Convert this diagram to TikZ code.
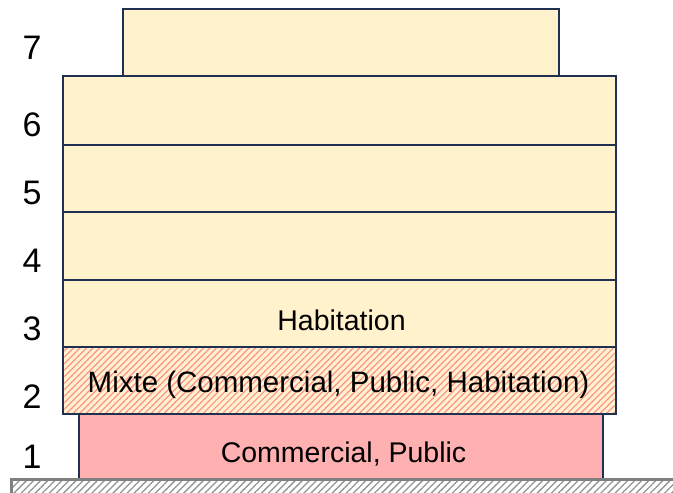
\documentclass[tikz,border=0pt]{standalone}
\usepackage{fontspec}
\setmainfont{Liberation Sans}
\usetikzlibrary{patterns.meta}
\definecolor{cream}{HTML}{FFF2CC}
\definecolor{rosy}{HTML}{FFB0B0}
\definecolor{navy}{HTML}{1F3050}
\definecolor{hatchpink}{HTML}{FF9090}
\definecolor{groundgray}{HTML}{808080}
\tikzset{
  floorbox/.style={draw=navy, line width=2.8pt, fill=cream, inner sep=0pt, outer sep=0pt},
  levellabel/.style={font=\fontsize{34}{38}\selectfont, inner sep=0pt},
  usetext/.style={font=\fontsize{28.5}{32}\selectfont, inner sep=0pt}
}
\begin{document}
\begin{tikzpicture}[x=1pt,y=-1pt]
\useasboundingbox (0,0) rectangle (673,493);
% ground
\node[draw=groundgray, line width=2.5pt, fill=white,
      pattern={Lines[angle=45,distance=5pt,line width=1.3pt]}, pattern color=groundgray!85,
      minimum width=680pt, minimum height=30pt, inner sep=0pt, anchor=north west] (ground) at (11,479) {};
% floor 1
\node[floorbox, fill=rosy, minimum width=524pt, minimum height=66pt, anchor=north west] (f1) at (79,413) {};
\fill[white] (60,478.8) rectangle (620,480.5);
\draw[groundgray, line width=2.5pt] (11,479.5) -- (680,479.5);
% floor 2
\node[floorbox, minimum width=553pt, minimum height=67pt, anchor=north west] (f2) at (63,347) {};
\fill[pattern={Lines[angle=45,distance=4.6pt,line width=1.2pt]}, pattern color=hatchpink]
  ([xshift=1.4pt,yshift=-1.4pt]f2.north west) rectangle ([xshift=-1.4pt,yshift=1.4pt]f2.south east);
% floors 3-6
\node[floorbox, minimum width=553pt, minimum height=67pt, anchor=north west] (f3) at (63,280) {};
\node[floorbox, minimum width=553pt, minimum height=68pt, anchor=north west] (f4) at (63,212) {};
\node[floorbox, minimum width=553pt, minimum height=67pt, anchor=north west] (f5) at (63,145) {};
\node[floorbox, minimum width=553pt, minimum height=69pt, anchor=north west] (f6) at (63,76) {};
% floor 7
\node[floorbox, minimum width=436pt, minimum height=67pt, anchor=north west] (f7) at (123,9) {};
% texts
\node[usetext] (t1) at (343.5,454) {Commercial, Public};
\node[usetext, font=\fontsize{29.5}{32}\selectfont] (t2) at (338.5,385) {Mixte (Commercial, Public, Habitation)};
\node[usetext] (t3) at (341.5,320) {Habitation};
% level labels
\node[levellabel] (n7) at (32,48) {7};
\node[levellabel] (n6) at (32,125) {6};
\node[levellabel] (n5) at (32,193) {5};
\node[levellabel] (n4) at (32,261) {4};
\node[levellabel] (n3) at (32,329) {3};
\node[levellabel] (n2) at (32,397) {2};
\node[levellabel] (n1) at (32,457) {1};
\end{tikzpicture}
\end{document}
